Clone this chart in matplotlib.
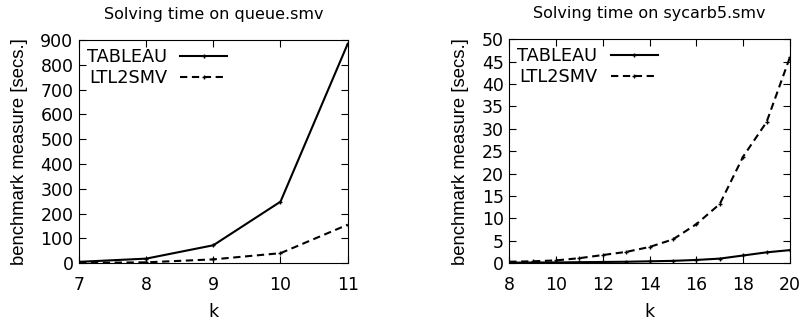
import matplotlib
matplotlib.use('Agg')
import matplotlib.pyplot as plt

plt.rcParams['font.family'] = ['DejaVu Sans']

# queue.smv
k_queue = [7, 8, 9, 10, 11]
tableau_queue = [5, 18, 72, 248, 885]
ltl2smv_queue = [1, 3, 15, 40, 155]

# sycarb5.smv
k_sycarb = [8, 9, 10, 11, 12, 13, 14, 15, 16, 17, 18, 19, 20]
tableau_sycarb = [0.1, 0.12, 0.15, 0.2, 0.25, 0.3, 0.4, 0.5, 0.7, 1.0, 1.7, 2.4, 2.9]
ltl2smv_sycarb = [0.3, 0.4, 0.6, 1.1, 1.8, 2.5, 3.6, 5.3, 8.7, 13.2, 23.8, 31.5, 46.0]

titles = ["Solving time on queue.smv", "Solving time on sycarb5.smv"]


def draw(ax, k, tab, ltl, title, ylim, yticks, xticks):
    ax.plot(k, tab, color='black', lw=1.5, marker='+', ms=2.5, label='TABLEAU')
    ax.plot(k, ltl, color='black', lw=1.5, ls=(0, (3.5, 2.2)), marker='+', ms=2.5, label='LTL2SMV')
    ax.set_xlim(k[0], k[-1])
    ax.set_ylim(*ylim)
    ax.set_xticks(xticks)
    ax.set_yticks(yticks)
    ax.tick_params(direction='in', top=True, right=True, labelsize=12.5, length=5)
    ax.tick_params(axis='x', pad=9)
    ax.tick_params(axis='y', pad=4)
    ax.set_xlabel('k', fontsize=12.5, labelpad=7)
    ax.set_ylabel('benchmark measure [secs.]', fontsize=13.3, family='Liberation Sans', labelpad=9)
    ax.set_title(title, fontsize=11.5, pad=15)
    ax.legend(loc='upper left', frameon=False, markerfirst=False, fontsize=12.8,
              handlelength=2.65, handletextpad=0.75, borderaxespad=0.35, borderpad=0.1,
              labelspacing=0.15)


fig = plt.figure(figsize=(8.02, 3.24), dpi=100)
ax1 = fig.add_axes([0.0985, 0.188, 0.335, 0.688])
ax2 = fig.add_axes([0.635, 0.188, 0.350, 0.691])

draw(ax1, k_queue, tableau_queue, ltl2smv_queue, titles[0], (0, 900),
     range(0, 901, 100), k_queue)
draw(ax2, k_sycarb, tableau_sycarb, ltl2smv_sycarb, titles[1], (0, 50),
     range(0, 51, 5), range(8, 21, 2))

fig.savefig('out.png', dpi=100)
